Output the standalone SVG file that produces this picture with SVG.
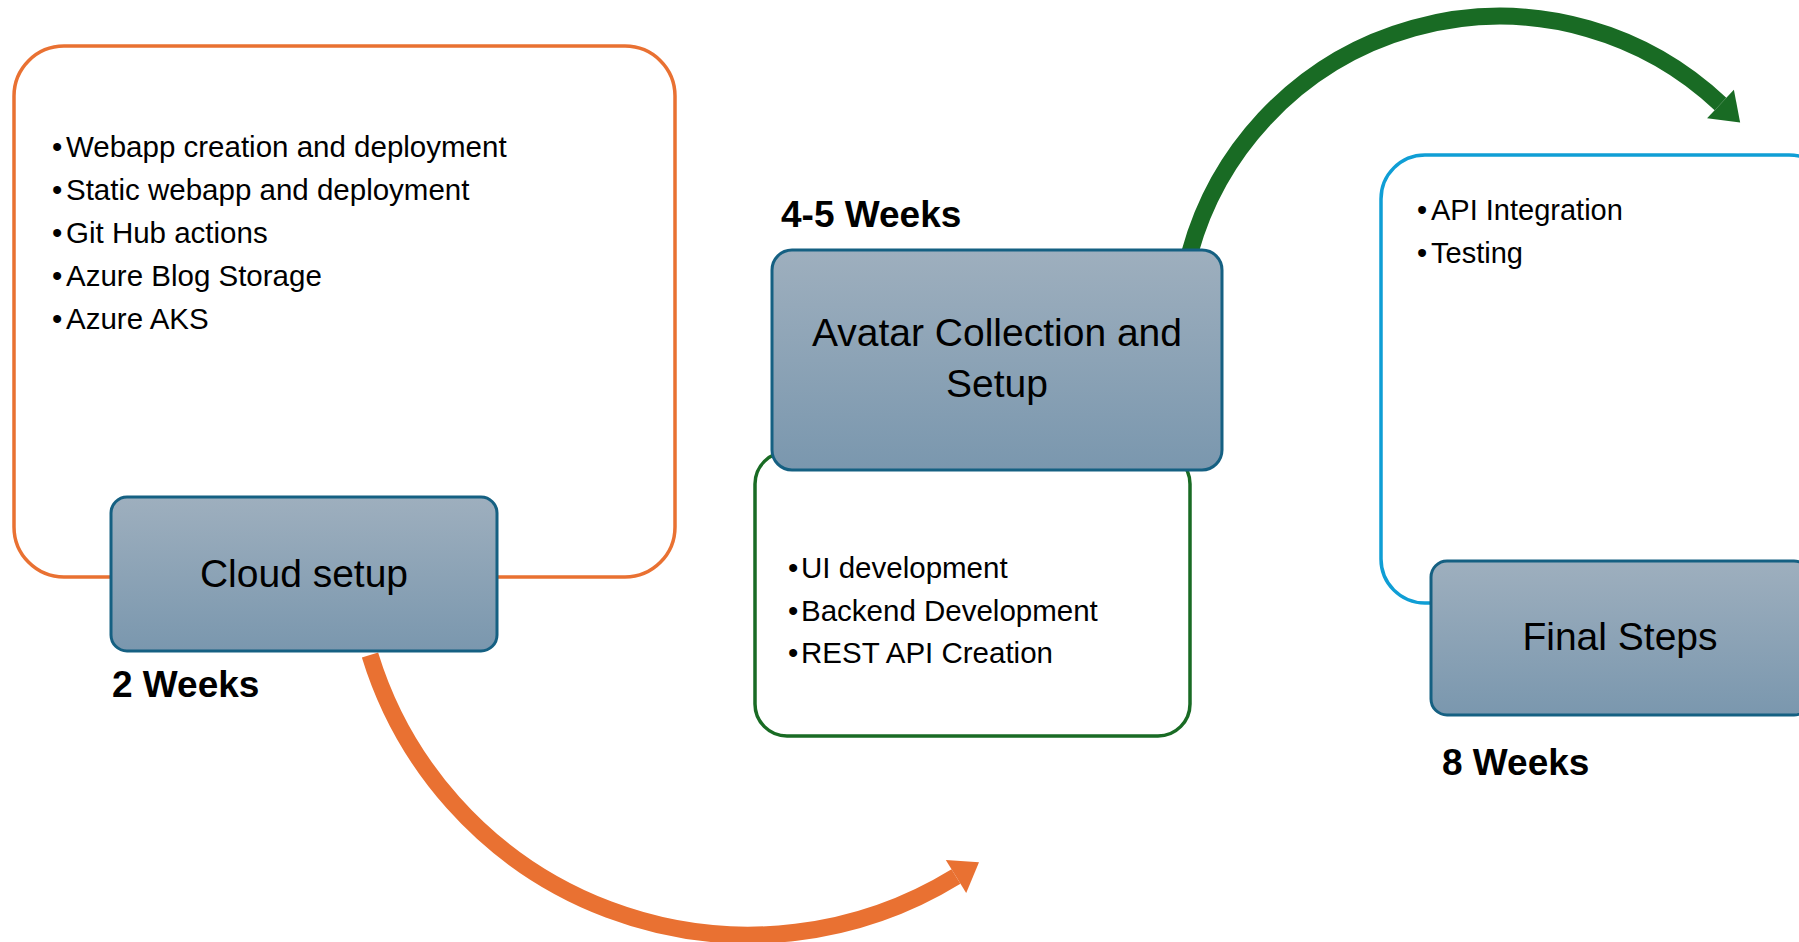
<svg xmlns="http://www.w3.org/2000/svg" width="1799" height="942" viewBox="0 0 1799 942">
  <defs>
    <linearGradient id="boxGrad" x1="0" y1="0" x2="0" y2="1">
      <stop offset="0" stop-color="#9EAFBE"/>
      <stop offset="1" stop-color="#7A97AE"/>
    </linearGradient>
    <marker id="headOrange" markerUnits="userSpaceOnUse" markerWidth="28" markerHeight="40" refX="0" refY="19.5" orient="auto" overflow="visible">
      <polygon points="0,0 27,19.5 0,39" fill="#E97132"/>
    </marker>
    <marker id="headGreen" markerUnits="userSpaceOnUse" markerWidth="28" markerHeight="40" refX="0" refY="19.5" orient="auto" overflow="visible">
      <polygon points="0,0 27,19.5 0,39" fill="#196B24"/>
    </marker>
  </defs>
  <style>
    .panel { fill: #FFFFFF; stroke-width: 3.5; }
    .title { fill: url(#boxGrad); stroke: #156082; stroke-width: 3; }
    .bullet { font-family: "Liberation Sans", Arial, sans-serif; font-size: 29.5px; fill: #000000; }
    .ttl { font-family: "Liberation Sans", Arial, sans-serif; font-size: 39px; fill: #000000; text-anchor: middle; }
    .wk { font-family: "Liberation Sans", Arial, sans-serif; font-size: 37px; font-weight: bold; fill: #000000; }
    .arc { fill: none; stroke-width: 17; stroke-linecap: butt; }
  </style>
  <rect width="1799" height="942" fill="#FFFFFF"/>

  <g id="connectors">
    <path class="arc" d="M370,655 A396,396 0 0,0 956,876.5" stroke="#E97132" marker-end="url(#headOrange)"/>
    <path class="arc" d="M1190,252 A321.5,321.5 0 0,1 1720.5,104" stroke="#196B24" marker-end="url(#headGreen)"/>
  </g>

  <g id="cloud-setup">
    <rect class="panel" x="14" y="46" width="661" height="531" rx="50" ry="50" stroke="#E97132"/>
    <text class="bullet" y="157"><tspan x="52">•</tspan><tspan x="66">Webapp creation and deployment</tspan></text>
    <text class="bullet" y="200"><tspan x="52">•</tspan><tspan x="66">Static webapp and deployment</tspan></text>
    <text class="bullet" y="243"><tspan x="52">•</tspan><tspan x="66">Git Hub actions</tspan></text>
    <text class="bullet" y="286"><tspan x="52">•</tspan><tspan x="66">Azure Blog Storage</tspan></text>
    <text class="bullet" y="329"><tspan x="52">•</tspan><tspan x="66">Azure AKS</tspan></text>
    <rect class="title" x="111" y="497" width="386" height="154" rx="16" ry="16"/>
    <text class="ttl" x="304" y="587">Cloud setup</text>
    <text class="wk" x="112" y="697">2 Weeks</text>
  </g>

  <g id="avatar-collection">
    <rect class="panel" x="755" y="452" width="435" height="284" rx="32" ry="32" stroke="#196B24"/>
    <text class="bullet" y="578"><tspan x="788">•</tspan><tspan x="801">UI development</tspan></text>
    <text class="bullet" y="621"><tspan x="788">•</tspan><tspan x="801">Backend Development</tspan></text>
    <text class="bullet" y="663"><tspan x="788">•</tspan><tspan x="801">REST API Creation</tspan></text>
    <rect class="title" x="772" y="250" width="450" height="220" rx="20" ry="20"/>
    <text class="ttl" x="997" y="346">Avatar Collection and</text>
    <text class="ttl" x="997" y="397">Setup</text>
    <text class="wk" x="781" y="227">4-5 Weeks</text>
  </g>

  <g id="final-steps">
    <rect class="panel" x="1381" y="155" width="452" height="448" rx="44" ry="44" stroke="#0F9ED5"/>
    <text class="bullet" style="font-size:29px" y="220"><tspan x="1417">•</tspan><tspan x="1431">API Integration</tspan></text>
    <text class="bullet" style="font-size:29px" y="263"><tspan x="1417">•</tspan><tspan x="1431">Testing</tspan></text>
    <rect class="title" x="1431" y="561" width="379" height="154" rx="16" ry="16"/>
    <text class="ttl" x="1620" y="650">Final Steps</text>
    <text class="wk" x="1442" y="775">8 Weeks</text>
  </g>
</svg>
